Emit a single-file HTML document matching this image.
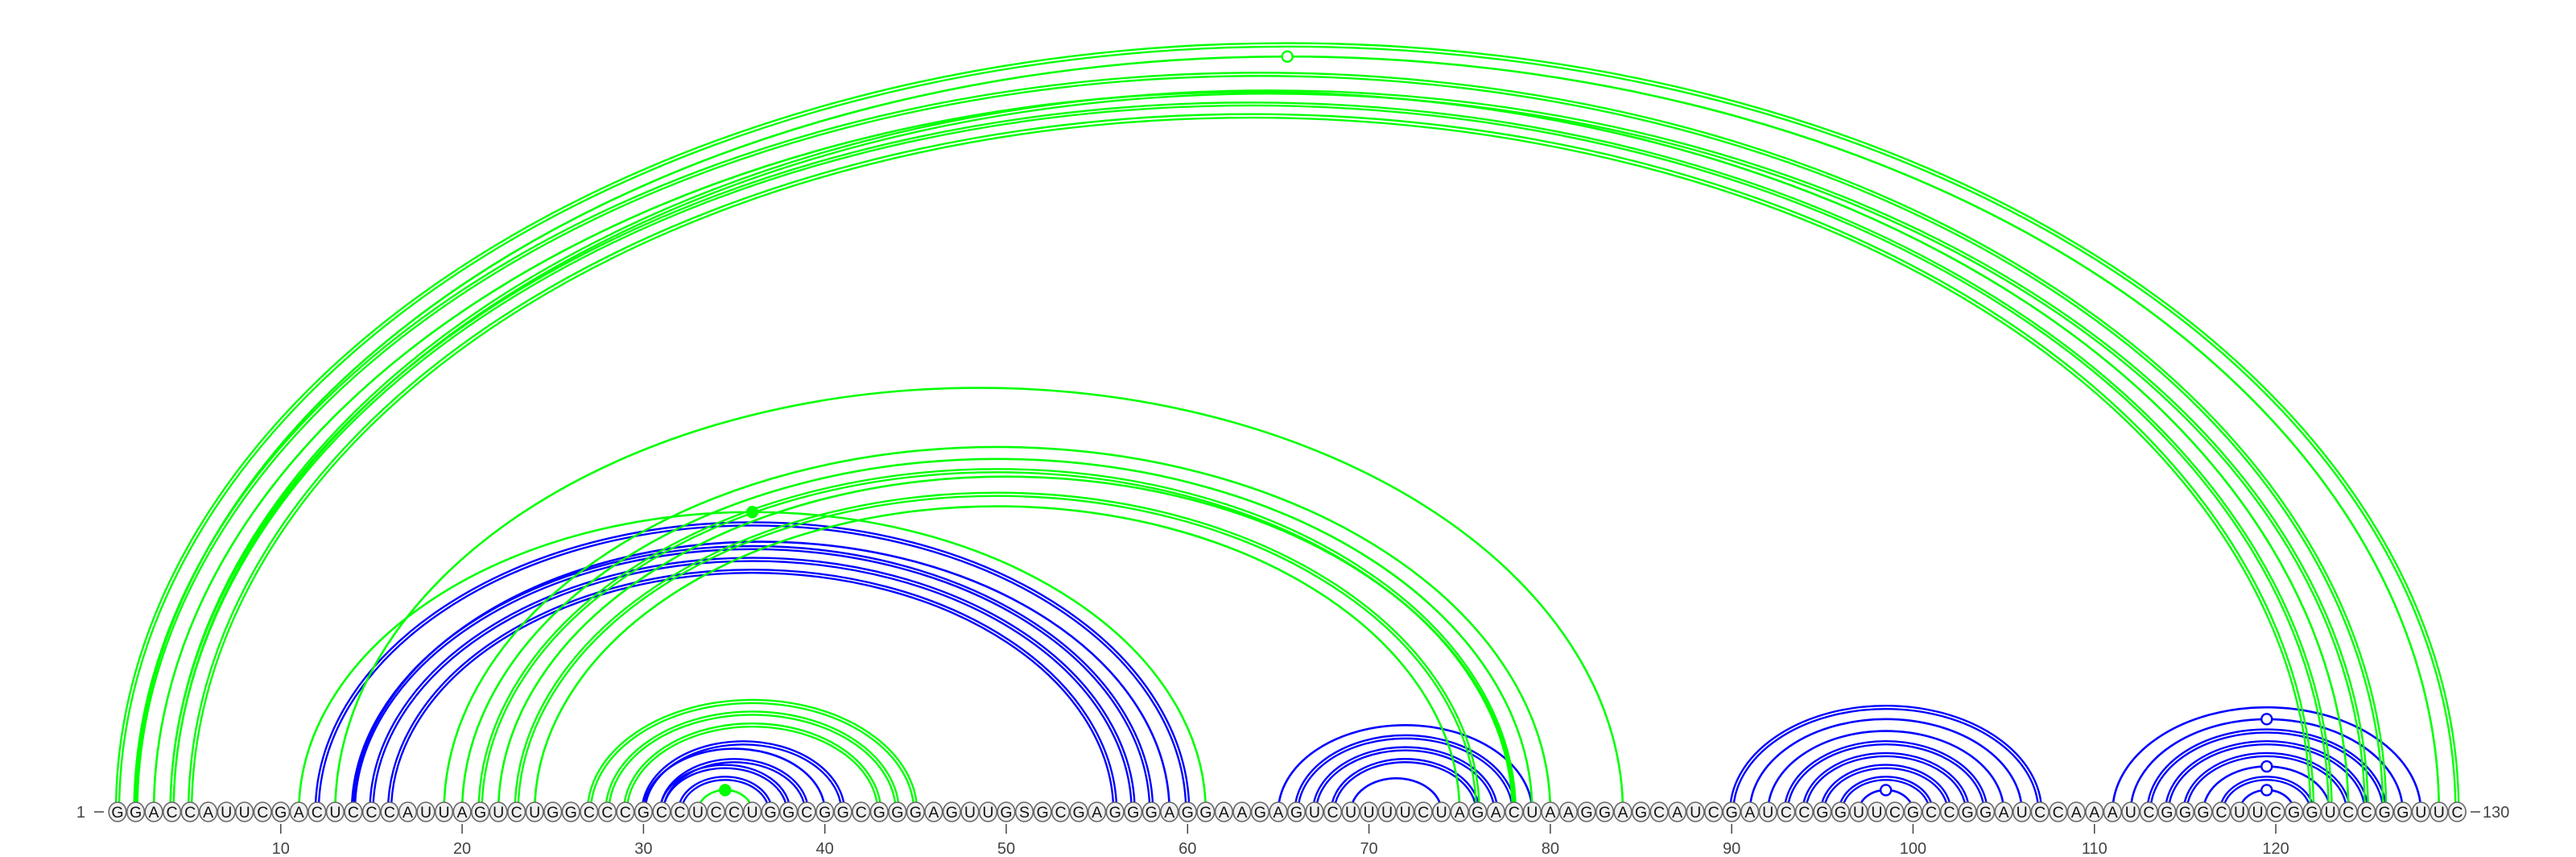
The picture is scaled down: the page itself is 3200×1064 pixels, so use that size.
<!DOCTYPE html>
<html><head><meta charset="utf-8"><title>RNA arc diagram</title>
<style>
html,body{margin:0;padding:0;background:#fff;}
svg{display:block;}
text{font-family:"Liberation Sans",sans-serif;}
</style></head>
<body>
<svg id="chart" width="3200" height="1064" viewBox="0 0 3200 1064" xmlns="http://www.w3.org/2000/svg">
  <g id="arcs"></g>
  <g id="bases"></g>
  <g id="axis"></g>
</svg>
<script>
const sequence = "GGACCAUUCGACUCCCAUUAGUCUGGCCCGCCUCCUGGCGGCGGGAGUUGSGCGAGGGAGGAAGAGUCUUUUCUAGACUAAGGAGCAUCGAUCCGGUUCGCCGGAUCCAAAUCGGGCUUCGGUCCGGUUC";
const tickPositions = [10,20,30,40,50,60,70,80,90,100,110,120];
// green arcs: [i, j], style: 1 single, 2 double
const greenLeft  = [1,2,2,4,3,4,5,13,11,19,20,21,22,23,24,27,28,29,33];
const greenRight = [130,129,126,125,124,123,122,84,61,80,79,78,78,76,75,45,44,43,36];
const greenStyle = [2,1,2,2,1,2,2,1,1,1,1,2,1,2,1,2,2,2,1];
const greenMarker= ["","open","","","","","","","filled","","","","","","","","","","filled"];
// blue arcs
const blueLeft  = [12,14,14,15,16,32,31,31,30,30,65,66,67,68,69,90,91,92,93,94,95,96,97,111,112,113,114,115,116,117,118];
const blueRight = [60,59,58,57,56,37,38,39,40,41,79,78,77,76,74,107,106,105,104,103,102,101,100,128,127,126,125,124,123,122,121];
const blueStyle = [2,1,2,2,2,2,2,2,1,2,1,2,2,2,1,2,1,1,2,2,2,2,1,1,1,2,2,2,1,2,1];
const blueMarker= ["","","","","","","","","","","","","","","","","","","","","","","open","","open","","","","open","","open"];

const NS = "http://www.w3.org/2000/svg";
const X0 = 146, STEP = 22.53, BASE = 1008;
function xOf(p){ return X0 + (p-1)*STEP; }
function ryOf(rx){ return 0.652*rx + 5; }
const arcsG = document.getElementById('arcs');

function arcPath(x1,x2,rx,ry){
  return `M ${x1} ${BASE} A ${rx} ${ry} 0 0 1 ${x2} ${BASE}`;
}
function drawArcs(L,R,S,M,color,name){
  for(let k=0;k<L.length;k++){
    const x1=xOf(L[k]), x2=xOf(R[k]);
    const rx=(x2-x1)/2, ry=ryOf(rx), cx=(x1+x2)/2;
    const g=document.createElementNS(NS,'g');
    
    
    const offs = S[k]===2 ? [-2,2] : [0];
    offs.forEach(o=>{
      const p=document.createElementNS(NS,'path');
      p.setAttribute('d', arcPath(x1-o,x2+o,rx+o,ry+o));
      p.setAttribute('fill','none');
      p.setAttribute('stroke',color);
      p.setAttribute('stroke-width', S[k]===2 ? 2.4 : 2.6);
      
      
      g.appendChild(p);
    });
    if(M[k]){
      const c=document.createElementNS(NS,'circle');
      c.setAttribute('cx',cx); c.setAttribute('cy',BASE-ry);
      c.setAttribute('r', 6.5);
      c.setAttribute('fill', M[k]==='open'?'#fff':color);
      c.setAttribute('stroke',color);
      c.setAttribute('stroke-width',2.4);
      
      
      g.appendChild(c);
    }
    arcsG.appendChild(g);
  }
}
drawArcs(blueLeft,blueRight,blueStyle,blueMarker,'#0000ff','blue-arc');
drawArcs(greenLeft,greenRight,greenStyle,greenMarker,'#00ff00','green-arc');

const basesG=document.getElementById('bases');
for(let i=0;i<sequence.length;i++){
  const x=xOf(i+1);
  const e=document.createElementNS(NS,'ellipse');
  e.setAttribute('cx',x); e.setAttribute('cy',BASE);
  e.setAttribute('rx',10.8); e.setAttribute('ry',12);
  e.setAttribute('fill','#f0f0f0'); e.setAttribute('stroke','#666'); e.setAttribute('stroke-width',1.6);
  
  
  basesG.appendChild(e);
  const t=document.createElementNS(NS,'text');
  t.setAttribute('x',x); t.setAttribute('y',BASE+7);
  t.setAttribute('text-anchor','middle'); t.setAttribute('font-size','19.5');
  t.setAttribute('fill','#111');
  
  
  t.textContent=sequence[i];
  basesG.appendChild(t);
}

const axisG=document.getElementById('axis');
tickPositions.forEach(p=>{
  const x=xOf(p);
  const l=document.createElementNS(NS,'line');
  l.setAttribute('x1',x); l.setAttribute('x2',x); l.setAttribute('y1',1023); l.setAttribute('y2',1035);
  l.setAttribute('stroke','#444'); l.setAttribute('stroke-width',1.5);
  
  
  axisG.appendChild(l);
  const t=document.createElementNS(NS,'text');
  t.setAttribute('x',x); t.setAttribute('y',1060);
  t.setAttribute('text-anchor','middle'); t.setAttribute('font-size','20');
  t.setAttribute('fill','#444');
  
  
  t.textContent=p;
  axisG.appendChild(t);
});
function endLabel(txt,x,anchor,lx1,lx2,name){
  const l=document.createElementNS(NS,'line');
  l.setAttribute('x1',lx1); l.setAttribute('x2',lx2); l.setAttribute('y1',BASE); l.setAttribute('y2',BASE);
  l.setAttribute('stroke','#444'); l.setAttribute('stroke-width',1.5);
  
  
  axisG.appendChild(l);
  const t=document.createElementNS(NS,'text');
  t.setAttribute('x',x); t.setAttribute('y',BASE+7);
  t.setAttribute('text-anchor',anchor); t.setAttribute('font-size','20');
  t.setAttribute('fill','#444');
  
  
  t.textContent=txt;
  axisG.appendChild(t);
}
endLabel('1',106,'end',117,129,'start-label');
endLabel('130',3084,'start',3069,3081,'end-label');
</script>
</body></html>
